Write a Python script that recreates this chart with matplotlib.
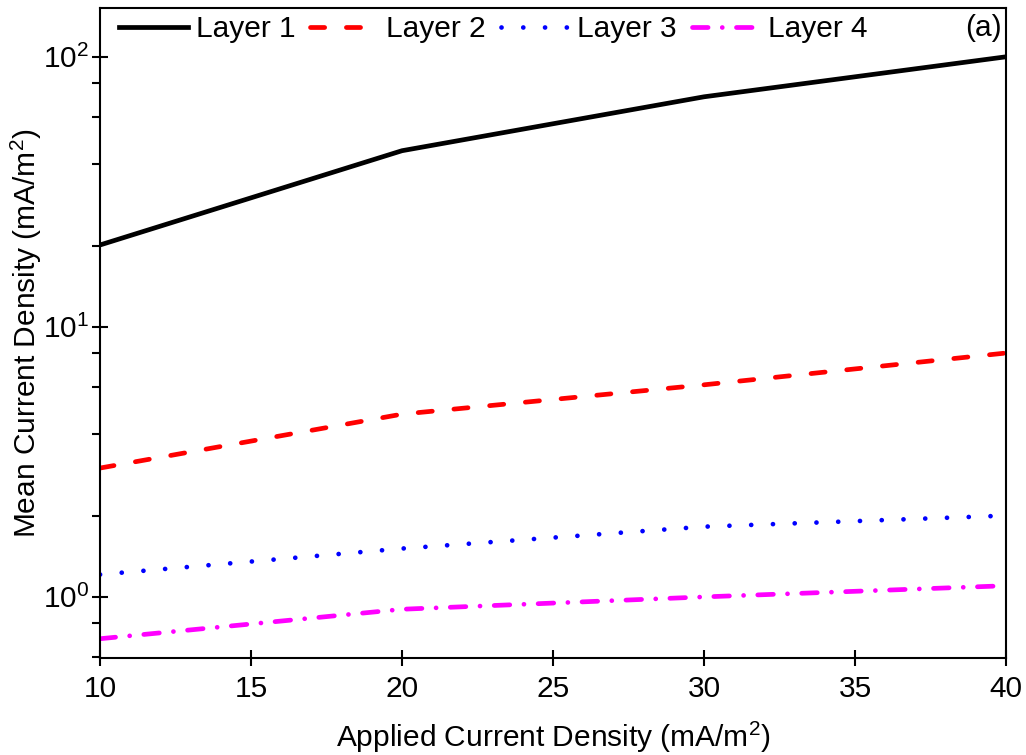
import matplotlib
matplotlib.use("Agg")
import matplotlib.pyplot as plt
from matplotlib.ticker import LogLocator, NullFormatter

plt.rcParams['font.family'] = ['Liberation Sans', 'DejaVu Sans']
plt.rcParams['mathtext.fontset'] = 'custom'
plt.rcParams['mathtext.rm'] = 'Liberation Sans'

# data
applied = [10, 20, 30, 40]
layer1 = [20.1, 44.9, 71.1, 100.0]
layer2 = [3.0, 4.75, 6.1, 8.0]
layer3 = [1.21, 1.51, 1.82, 2.0]
layer4 = [0.70, 0.90, 1.0, 1.1]
labels = ['Layer 1', 'Layer 2', 'Layer 3', 'Layer 4']

fs = 21.5
fig = plt.figure(figsize=(10.26, 7.55), dpi=100)
ax = fig.add_axes([0.0975, 0.1285, 0.883, 0.861])

lw = 3.4
ax.plot(applied, layer1, color='black', lw=lw, ls='-', label=labels[0])
ax.plot(applied, layer2, color='#ff0000', lw=lw, ls=(0, (3.0, 4.6)),
        dash_capstyle='round', label=labels[1])
ax.plot(applied, layer3, color='#0000ff', lw=lw, ls=(0, (0.01, 4.6)),
        dash_capstyle='round', label=labels[2])
ax.plot(applied, layer4, color='#ff00ff', lw=lw, ls=(0, (3.3, 3.0, 0.01, 3.0)),
        dash_capstyle='round', label=labels[3])

ax.set_yscale('log')
ax.set_xlim(10, 40)
ax.set_ylim(0.594, 151.7)
ax.set_xticks([10, 15, 20, 25, 30, 35, 40])
ax.yaxis.set_major_locator(LogLocator(base=10, numticks=10))
ax.yaxis.set_minor_locator(LogLocator(base=10, subs=[2, 4, 6, 8], numticks=10))
ax.yaxis.set_minor_formatter(NullFormatter())

ax.tick_params(axis='both', which='major', direction='inout', length=12, width=1.5,
               labelsize=fs, top=False, right=False)
ax.tick_params(axis='y', which='minor', direction='out', length=6, width=1.5)
ax.tick_params(axis='x', which='major', pad=6)
ax.tick_params(axis='y', which='major', pad=2)
for s in ax.spines.values():
    s.set_linewidth(1.5)

ax.set_xlabel('Applied Current Density (mA/m$^2$)', fontsize=fs, labelpad=12)
ax.set_ylabel('Mean Current Density (mA/m$^2$)', fontsize=fs)
ax.yaxis.set_label_coords(-0.062, 0.5)

ax.legend(loc='upper left', ncol=4, frameon=False, fontsize=fs, handlelength=2.3,
          handletextpad=0.25, columnspacing=0.5, borderaxespad=0.1,
          bbox_to_anchor=(0.005, 1.012))
ax.text(0.995, 0.99, '(a)', transform=ax.transAxes, ha='right', va='top', fontsize=fs)

fig.savefig('out.png', dpi=100)
